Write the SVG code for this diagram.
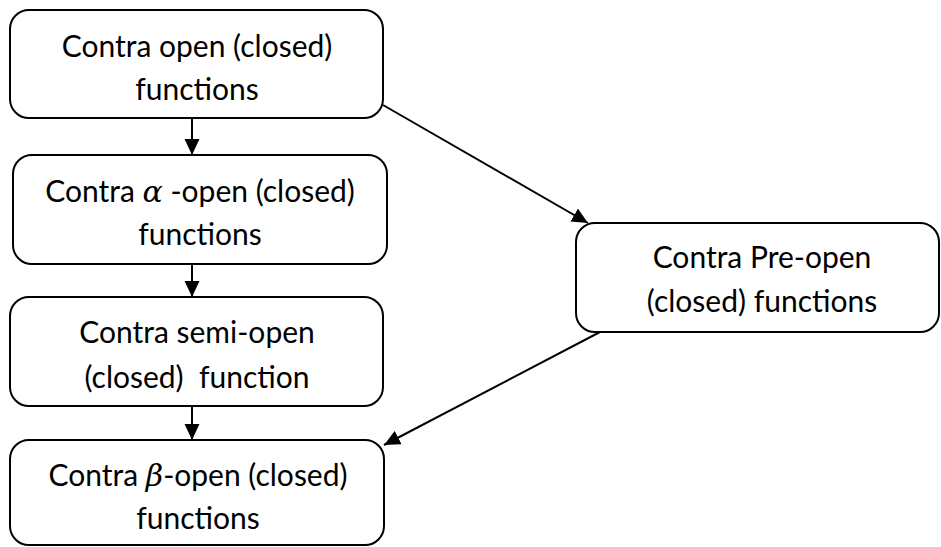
<svg xmlns="http://www.w3.org/2000/svg" width="941" height="547" viewBox="0 0 941 547">
<style>
.box{fill:#fff;stroke:#000;stroke-width:2}
.t{font-family:Lato,"Liberation Sans",sans-serif;font-size:30px;fill:#000;text-anchor:middle}
.m{font-family:"DejaVu Serif","Liberation Serif",serif;font-style:italic}
.c{stroke:#000;stroke-width:2;fill:none;marker-end:url(#ah)}
</style>
<defs>
<marker id="ah" markerUnits="userSpaceOnUse" markerWidth="17" markerHeight="16" refX="16" refY="7.5" orient="auto">
<path d="M0,0 L16,7.5 L0,15 Z" fill="#000"/>
</marker>
</defs>
<rect width="941" height="547" fill="#fff"/>
<g id="n1"><rect class="box" x="10" y="10" width="373" height="108" rx="19"/>
<text class="t" x="197" y="57">Contra open (closed)</text>
<text class="t" x="197" y="100">functions</text></g>
<g id="n2"><rect class="box" x="13" y="155" width="374" height="109" rx="19"/>
<text class="t" x="200" y="202">Contra <tspan class="m">α</tspan> -open (closed)</text>
<text class="t" x="200" y="245">functions</text></g>
<g id="n3"><rect class="box" x="10" y="297" width="373" height="109" rx="19"/>
<text class="t" x="197" y="343">Contra semi-open</text>
<text class="t" x="197" y="388" xml:space="preserve">(closed)  function</text></g>
<g id="n4"><rect class="box" x="10" y="440" width="374" height="105" rx="19"/>
<text class="t" x="198" y="486">Contra <tspan class="m">β</tspan>-open (closed)</text>
<text class="t" x="198" y="529">functions</text></g>
<g id="n5"><rect class="box" x="576" y="223" width="363" height="109" rx="19"/>
<text class="t" x="762" y="268">Contra Pre-open</text>
<text class="t" x="762" y="312">(closed) functions</text></g>
<g id="connectors">
<line class="c" x1="192" y1="118" x2="192" y2="155"/>
<line class="c" x1="192" y1="264" x2="192" y2="297"/>
<line class="c" x1="192" y1="406" x2="192" y2="440"/>
<line class="c" x1="383" y1="105" x2="588" y2="223"/>
<line class="c" x1="600" y1="332" x2="384" y2="445"/>
</g>
</svg>
